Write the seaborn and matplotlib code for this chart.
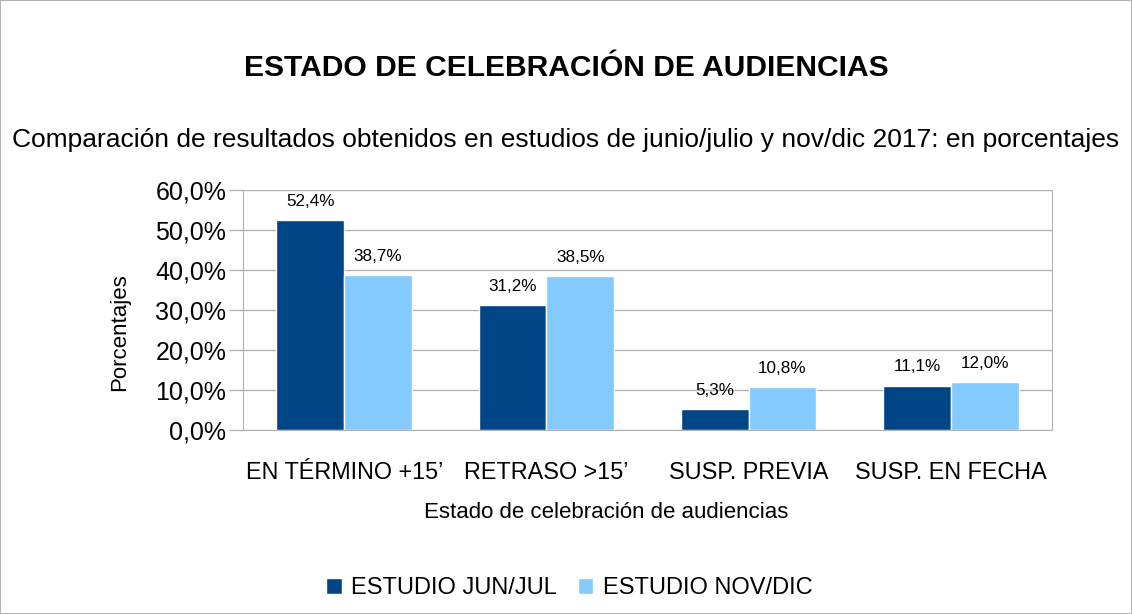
import matplotlib.pyplot as plt
import seaborn as sns
import pandas as pd
from matplotlib.patches import Patch

sns.set_style("white")
plt.rcParams['font.family'] = ['Liberation Sans', 'DejaVu Sans']
plt.rcParams.update({"text.color": "black", "axes.labelcolor": "black",
                     "xtick.color": "black", "ytick.color": "black"})

categories = ["EN TÉRMINO +15’", "RETRASO >15’", "SUSP. PREVIA", "SUSP. EN FECHA"]
series = ["ESTUDIO JUN/JUL", "ESTUDIO NOV/DIC"]
jun_jul = [52.4, 31.2, 5.3, 11.1]
nov_dic = [38.7, 38.5, 10.8, 12.0]
colors = ["#004586", "#83CAFF"]
yticks = [0, 10, 20, 30, 40, 50, 60]

df = pd.DataFrame({
    "estado": categories * 2,
    "estudio": [series[0]] * 4 + [series[1]] * 4,
    "valor": jun_jul + nov_dic,
})

fig = plt.figure(figsize=(11.32, 6.14), dpi=100)
fig.patch.set_edgecolor("#b3b3b3")
fig.patch.set_linewidth(1.2)
ax = fig.add_axes([243 / 1132, 1 - 430 / 614, (1052 - 243) / 1132, 240 / 614])

sns.barplot(data=df, x="estado", y="valor", hue="estudio", order=categories, hue_order=series,
            palette=colors, width=0.67, saturation=1, ax=ax, legend=False)

for cont in ax.containers:
    ax.bar_label(cont, labels=[f"{v:.1f}%".replace(".", ",") for v in cont.datavalues],
                 padding=8, fontsize=12.3)

ax.set_ylim(0, 60)
ax.set_xlim(-0.5, 3.5)
ax.set_yticks(yticks)
ax.set_yticklabels([f"{v:.1f}%".replace(".", ",") for v in yticks], fontsize=18)
ax.set_xticks([-0.5, 0.5, 1.5, 2.5, 3.5])
ax.set_xticklabels([])
ax.set_xticks(range(4), minor=True)
ax.set_xticklabels(categories, minor=True, fontsize=16.8)
ax.tick_params(axis="x", which="major", length=10, color="#b3b3b3", width=1)
ax.tick_params(axis="x", which="minor", length=0, pad=22)
ax.tick_params(axis="y", length=10, color="#b3b3b3", width=1, pad=2, left=True)
ax.grid(axis="y", color="#b3b3b3", linewidth=1)
ax.set_axisbelow(True)
for side in ["left", "right", "bottom"]:
    ax.spines[side].set_color("#b3b3b3")
ax.spines["top"].set_visible(False)

ax.set_xlabel("Estado de celebración de audiencias", fontsize=16)
ax.set_ylabel("Porcentajes", fontsize=16)
ax.xaxis.set_label_coords((606 - 243) / 809, -(513 - 430) / 240)
ax.yaxis.set_label_coords((120 - 243) / 809, (430 - 332) / 240)
ax.xaxis.label.set_va("center")
ax.yaxis.label.set_va("center")

fig.text(0.5, 1 - 68 / 614, "ESTADO DE CELEBRACIÓN DE AUDIENCIAS", ha="center", va="center",
         fontsize=21.6, fontweight="bold")
fig.text(0.5, 1 - 140 / 614, "Comparación de resultados obtenidos en estudios de junio/julio y nov/dic 2017: en porcentajes",
         ha="center", va="center", fontsize=19)

handles = [Patch(facecolor=c, label=s) for c, s in zip(colors, series)]
fig.legend(handles=handles, loc="center", bbox_to_anchor=(0.503, 1 - 588 / 614), ncol=2, frameon=False,
           fontsize=17, handlelength=0.65, handleheight=0.65, handletextpad=0.4, columnspacing=0.9)

fig.savefig("out.png", dpi=100)
